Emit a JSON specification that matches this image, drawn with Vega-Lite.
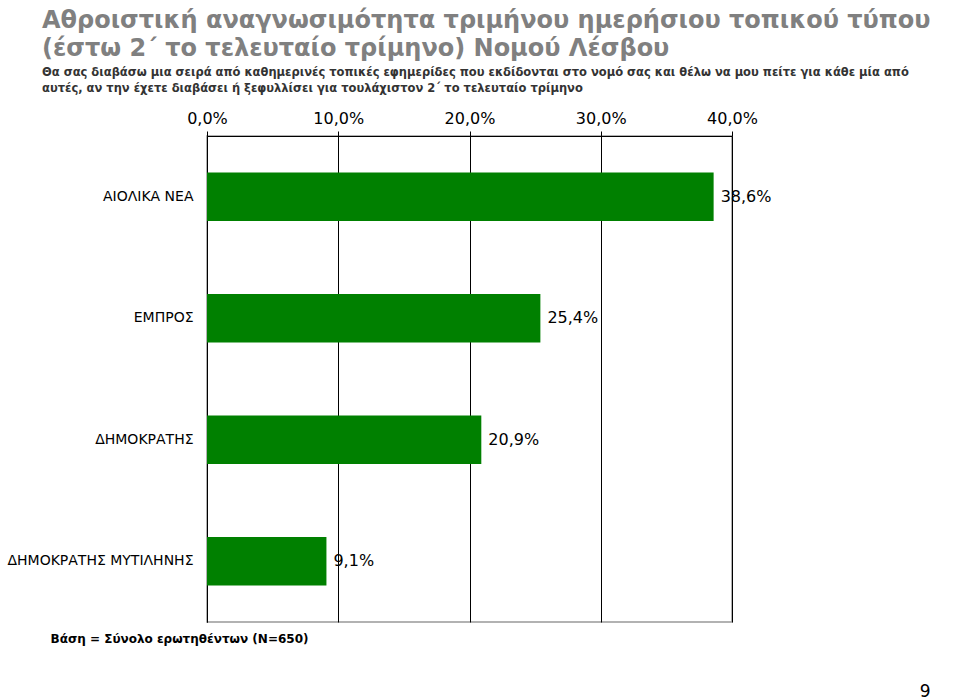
{
  "$schema": "https://vega.github.io/schema/vega-lite/v6.json",
  "autosize": {"type": "none"},
  "padding": {"left": 207, "top": 136, "right": 228, "bottom": 78},
  "width": 525,
  "height": 486,
  "background": "white",
  "config": {"font": "DejaVu Sans"},
  "view": {"stroke": "#999999", "strokeWidth": 1.5},
  "title": {
    "text": ["Αθροιστική αναγνωσιμότητα τριμήνου ημερήσιου τοπικού τύπου", "(έστω 2΄ το τελευταίο τρίμηνο) Νομού Λέσβου"],
    "subtitle": ["Θα σας διαβάσω μια σειρά από καθημερινές τοπικές εφημερίδες που εκδίδονται στο νομό σας και θέλω να μου πείτε για κάθε μία από", "αυτές, αν την έχετε διαβάσει ή ξεφυλλίσει για τουλάχιστον 2΄ το τελευταίο τρίμηνο"],
    "anchor": "start",
    "frame": "group",
    "dx": -165,
    "fontSize": 24,
    "fontWeight": "bold",
    "color": "#808080",
    "lineHeight": 28,
    "subtitleFontSize": 11.5,
    "subtitleFontWeight": "bold",
    "subtitleColor": "#333333",
    "subtitleLineHeight": 16,
    "subtitlePadding": 6,
    "offset": 16
  },
  "data": {
    "values": [
      {"paper": "ΑΙΟΛΙΚΑ ΝΕΑ", "share": 0.386},
      {"paper": "ΕΜΠΡΟΣ", "share": 0.254},
      {"paper": "ΔΗΜΟΚΡΑΤΗΣ", "share": 0.209},
      {"paper": "ΔΗΜΟΚΡΑΤΗΣ ΜΥΤΙΛΗΝΗΣ", "share": 0.091}
    ]
  },
  "transform": [
    {"calculate": "replace(format(datum.share, '.1%'), '.', ',')", "as": "label"}
  ],
  "encoding": {
    "y": {
      "field": "paper", "type": "nominal", "sort": null,
      "scale": {"paddingInner": 0.6, "paddingOuter": 0.3},
      "axis": {
        "title": "Βάση = Σύνολο ερωτηθέντων (N=650)",
        "titleAngle": 0, "titleX": -157, "titleY": 506, "titleAlign": "left", "titleBaseline": "alphabetic",
        "titleFontSize": 12, "titleFontWeight": "bold", "titleColor": "black",
        "labelFontSize": 14, "labelColor": "black", "labelPadding": 14, "labelLimit": 210,
        "domainColor": "black", "ticks": false
      }
    },
    "x": {
      "field": "share", "type": "quantitative",
      "scale": {"domain": [0, 0.4], "nice": false},
      "axis": {
        "orient": "top", "values": [0, 0.1, 0.2, 0.3, 0.4],
        "labelExpr": "replace(format(datum.value, '.1%'), '.', ',')",
        "labelFontSize": 16, "labelColor": "black", "labelPadding": 5, "labelFlush": false, "labelOverlap": false,
        "domainColor": "black", "tickColor": "black", "tickSize": 5,
        "grid": true, "gridColor": "black", "gridOpacity": 1,
        "title": "9", "titleAngle": 0, "titleX": 723, "titleY": 560, "titleAlign": "right", "titleBaseline": "alphabetic",
        "titleFontSize": 17, "titleFontWeight": "normal", "titleColor": "black"
      }
    }
  },
  "layer": [
    {"mark": {"type": "bar", "color": "#008000"}},
    {
      "mark": {"type": "text", "align": "left", "dx": 7, "fontSize": 16, "baseline": "middle", "color": "black"},
      "encoding": {"text": {"field": "label", "type": "nominal"}}
    }
  ]
}
